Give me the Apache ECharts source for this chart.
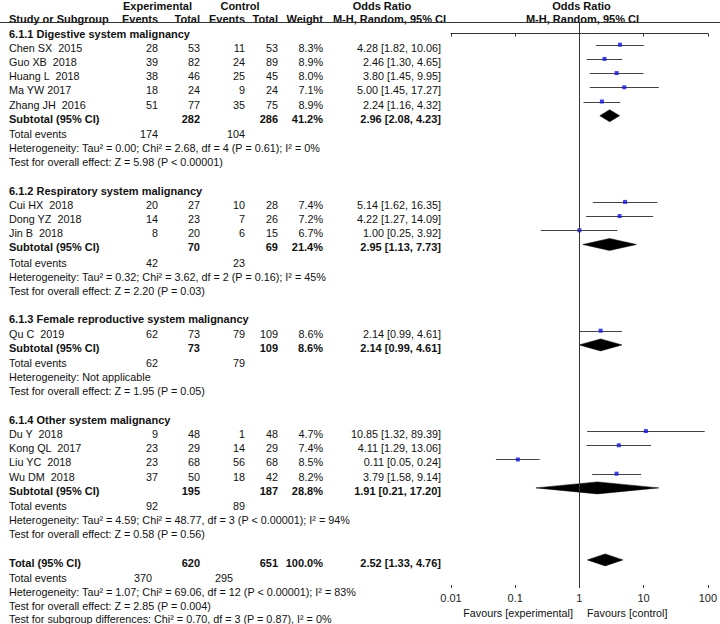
<!DOCTYPE html>
<html>
<head>
<meta charset="utf-8">
<script src="https://cdn.jsdelivr.net/npm/echarts@6/dist/echarts.min.js"></script>
<style>
html,body{margin:0;padding:0;background:#fff;}
#chart{width:720px;height:624px;}
</style>
</head>
<body>
<div id="chart"></div>
<script>
// ---------------- DATA ----------------
const groupNames = [
  '6.1.1 Digestive system malignancy',
  '6.1.2 Respiratory system malignancy',
  '6.1.3 Female reproductive system malignancy',
  '6.1.4 Other system malignancy'
];
const studyGroup = [0,0,0,0,0,1,1,1,2,3,3,3,3];
const studyNames = ['Chen SX  2015','Guo XB  2018','Huang L  2018','Ma YW 2017','Zhang JH  2016',
  'Cui HX  2018','Dong YZ  2018','Jin B  2018','Qu C  2019','Du Y  2018','Kong QL  2017','Liu YC  2018','Wu DM  2018'];
const expEvents  = [28,39,38,18,51,20,14,8,62,9,23,23,37];
const expTotal   = [53,82,46,24,77,27,23,20,73,48,29,68,50];
const ctrlEvents = [11,24,25,9,35,10,7,6,79,1,14,56,18];
const ctrlTotal  = [53,89,45,24,75,28,26,15,109,48,29,68,42];
const weights    = ['8.3%','8.9%','8.0%','7.1%','8.9%','7.4%','7.2%','6.7%','8.6%','4.7%','7.4%','8.5%','8.2%'];
const orEst  = [4.28,2.46,3.80,5.00,2.24,5.14,4.22,1.00,2.14,10.85,4.11,0.11,3.79];
const orLow  = [1.82,1.30,1.45,1.45,1.16,1.62,1.27,0.25,0.99,1.32,1.29,0.05,1.58];
const orHigh = [10.06,4.65,9.95,17.27,4.32,16.35,14.09,3.92,4.61,89.39,13.06,0.24,9.14];
const orText = ['4.28 [1.82, 10.06]','2.46 [1.30, 4.65]','3.80 [1.45, 9.95]','5.00 [1.45, 17.27]','2.24 [1.16, 4.32]',
  '5.14 [1.62, 16.35]','4.22 [1.27, 14.09]','1.00 [0.25, 3.92]','2.14 [0.99, 4.61]','10.85 [1.32, 89.39]',
  '4.11 [1.29, 13.06]','0.11 [0.05, 0.24]','3.79 [1.58, 9.14]'];

const subExpTotal   = [282,70,73,195];
const subCtrlTotal  = [286,69,109,187];
const subWeight     = ['41.2%','21.4%','8.6%','28.8%'];
const subEst  = [2.96,2.95,2.14,1.91];
const subLow  = [2.08,1.13,0.99,0.21];
const subHigh = [4.23,7.73,4.61,17.20];
const subText = ['2.96 [2.08, 4.23]','2.95 [1.13, 7.73]','2.14 [0.99, 4.61]','1.91 [0.21, 17.20]'];
const subExpEvents  = [174,42,62,92];
const subCtrlEvents = [104,23,79,89];
const subHet = [
  'Heterogeneity: Tau² = 0.00; Chi² = 2.68, df = 4 (P = 0.61); I² = 0%',
  'Heterogeneity: Tau² = 0.32; Chi² = 3.62, df = 2 (P = 0.16); I² = 45%',
  'Heterogeneity: Not applicable',
  'Heterogeneity: Tau² = 4.59; Chi² = 48.77, df = 3 (P < 0.00001); I² = 94%'
];
const subEffect = [
  'Test for overall effect: Z = 5.98 (P < 0.00001)',
  'Test for overall effect: Z = 2.20 (P = 0.03)',
  'Test for overall effect: Z = 1.95 (P = 0.05)',
  'Test for overall effect: Z = 0.58 (P = 0.56)'
];
const totalExpTotal = 620, totalCtrlTotal = 651, totalWeight = '100.0%';
const totalEst = 2.52, totalLow = 1.33, totalHigh = 4.76, totalText = '2.52 [1.33, 4.76]';
const totalExpEvents = 370, totalCtrlEvents = 295;
const totalHet = 'Heterogeneity: Tau² = 1.07; Chi² = 69.06, df = 12 (P < 0.00001); I² = 83%';
const totalEffect = 'Test for overall effect: Z = 2.85 (P = 0.004)';
const subgroupDiff = 'Test for subgroup differences: Chi² = 0.70, df = 3 (P = 0.87), I² = 0%';
const tickValues = [0.01, 0.1, 1, 10, 100];
const tickLabels = ['0.01','0.1','1','10','100'];

// ---------------- LAYOUT ----------------
const FONT = '"Liberation Sans", Arial, sans-serif';
const F = (b) => (b ? 'bold 11px ' : '10.8px ') + FONT;
const ROW0 = 33.5, STEP = 14.2, EXTRA = 0.07;
const yPix = r => ROW0 + r * STEP;
const MARK_SHIFT = -3 / STEP;
const X = {name: 9, ee: 158, et: 200, ce: 245, ct: 278, w: 323, or: 441};
const gridTop = 22.5, gridBottom = 588, gridLeft = 451, gridRight = 710;

const texts = [];
function txt(s, x, y, opt) {
  opt = opt || {};
  texts.push({
    type: 'text', silent: true,
    style: {
      text: String(s), x: x, y: y, fill: opt.fill || '#111', font: F(opt.bold),
      textAlign: opt.align || 'left', textVerticalAlign: 'middle', verticalAlign: 'middle'
    }
  });
}

const studyPts = [];   // [est, row]
const ciLines = [];    // [lo, hi, row]
const diamonds = [];   // [lo, est, hi, row]

let r = 0;
groupNames.forEach((g, gi) => {
  txt(g, X.name, yPix(r), {bold: true}); r += 1;
  studyNames.forEach((s, i) => {
    if (studyGroup[i] !== gi) return;
    const y = yPix(r);
    txt(s, X.name, y);
    txt(expEvents[i], X.ee, y, {align: 'right'});
    txt(expTotal[i], X.et, y, {align: 'right'});
    txt(ctrlEvents[i], X.ce, y, {align: 'right'});
    txt(ctrlTotal[i], X.ct, y, {align: 'right'});
    txt(weights[i], X.w, y, {align: 'right'});
    txt(orText[i], X.or, y, {align: 'right'});
    studyPts.push([orEst[i], r + MARK_SHIFT]);
    ciLines.push([orLow[i], orHigh[i], r + MARK_SHIFT]);
    r += 1;
  });
  let y = yPix(r);
  txt('Subtotal (95% CI)', X.name, y, {bold: true});
  txt(subExpTotal[gi], X.et, y, {align: 'right', bold: true});
  txt(subCtrlTotal[gi], X.ct, y, {align: 'right', bold: true});
  txt(subWeight[gi], X.w, y, {align: 'right', bold: true});
  txt(subText[gi], X.or, y, {align: 'right', bold: true});
  diamonds.push([subLow[gi], subEst[gi], subHigh[gi], r + MARK_SHIFT]);
  r += 1 + EXTRA;
  y = yPix(r);
  txt('Total events', X.name, y);
  txt(subExpEvents[gi], X.ee, y, {align: 'right'});
  txt(subCtrlEvents[gi], X.ce, y, {align: 'right'});
  r += 1;
  txt(subHet[gi], X.name, yPix(r)); r += 1;
  txt(subEffect[gi], X.name, yPix(r)); r += 1;
  r += 1;
});
let yT = yPix(r);
txt('Total (95% CI)', X.name, yT, {bold: true});
txt(totalExpTotal, X.et, yT, {align: 'right', bold: true});
txt(totalCtrlTotal, X.ct, yT, {align: 'right', bold: true});
txt(totalWeight, X.w, yT, {align: 'right', bold: true});
txt(totalText, X.or, yT, {align: 'right', bold: true});
diamonds.push([totalLow, totalEst, totalHigh, r + MARK_SHIFT]);
r += 1 + EXTRA;
yT = yPix(r);
txt('Total events', X.name, yT);
txt(totalExpEvents, X.ee - 6, yT, {align: 'right'});
txt(totalCtrlEvents, X.ce - 12, yT, {align: 'right'});
r += 1;
txt(totalHet, X.name, yPix(r)); r += 1;
txt(totalEffect, X.name, yPix(r)); r += 1;
txt(subgroupDiff, X.name, yPix(r) - 1.5);

// headers
txt('Experimental', 157.5, 5.5, {bold: true, align: 'center'});
txt('Control', 240, 5.5, {bold: true, align: 'center'});
txt('Odds Ratio', 382, 5.5, {bold: true, align: 'center'});
txt('Odds Ratio', 581.5, 5.5, {bold: true, align: 'center'});
txt('Study or Subgroup', X.name, 18.5, {bold: true});
txt('Events', X.ee, 18.5, {bold: true, align: 'right'});
txt('Total', X.et, 18.5, {bold: true, align: 'right'});
txt('Events', X.ce, 18.5, {bold: true, align: 'right'});
txt('Total', X.ct, 18.5, {bold: true, align: 'right'});
txt('Weight', X.w, 18.5, {bold: true, align: 'right'});
txt('M-H, Random, 95% CI', 446, 18.5, {bold: true, align: 'right'});
txt('M-H, Random, 95% CI', 582.5, 18.5, {bold: true, align: 'center'});
txt('Favours [experimental]', 573, 613, {align: 'right'});
txt('Favours [control]', 587, 613);

const graphics = texts.concat([{
  type: 'line', silent: true,
  shape: {x1: 0, y1: gridTop, x2: 720, y2: gridTop},
  style: {stroke: '#333', lineWidth: 1}
}]);

const yMin = (gridTop - ROW0) / STEP;
const yMax = (gridBottom - ROW0) / STEP;

const chart = echarts.init(document.getElementById('chart'), null, {renderer: 'svg'});
chart.setOption({
  animation: false,
  backgroundColor: '#fff',
  grid: {left: gridLeft, right: 720 - gridRight, top: gridTop, bottom: 624 - gridBottom, containLabel: false},
  xAxis: [{
    type: 'log', logBase: 10, min: 0.01, max: 100,
    axisLine: {show: true, lineStyle: {color: '#333', width: 1}},
    axisTick: {show: true, length: 3, lineStyle: {color: '#333'}},
    axisLabel: {
      show: true, margin: 4, color: '#222', fontFamily: FONT, fontSize: 11,
      formatter: v => { const k = tickValues.findIndex(t => Math.abs(Math.log10(t) - Math.log10(v)) < 1e-6); return k >= 0 ? tickLabels[k] : ''; }
    },
    splitLine: {show: false}
  }, {
    type: 'log', logBase: 10, min: 0.01, max: 100, position: 'bottom', gridIndex: 0,
    axisLine: {show: false},
    axisTick: {show: true, inside: true, length: 3, lineStyle: {color: '#333'}},
    axisLabel: {show: false},
    splitLine: {show: false}
  }],
  yAxis: {type: 'value', min: yMin, max: yMax, inverse: true, show: false},
  graphic: graphics,
  series: [
    {
      type: 'custom', name: 'ci', xAxisIndex: 0,
      data: ciLines, encode: {x: [0, 1], y: 2},
      renderItem: (params, api) => {
        const p1 = api.coord([api.value(0), api.value(2)]);
        const p2 = api.coord([api.value(1), api.value(2)]);
        return {type: 'line', shape: {x1: p1[0], y1: Math.round(p1[1]) + 0.5, x2: p2[0], y2: Math.round(p2[1]) + 0.5},
          style: {stroke: '#444', lineWidth: 1}};
      },
      z: 3,
      markLine: {
        silent: true, symbol: 'none', label: {show: false},
        lineStyle: {color: '#333', width: 1, type: 'solid'},
        data: [{xAxis: 1}]
      }
    },
    {
      type: 'scatter', name: 'est', xAxisIndex: 0,
      data: studyPts, symbol: 'rect', symbolSize: 4,
      itemStyle: {color: '#1010e0'}, z: 4
    },
    {
      type: 'custom', name: 'diamond', xAxisIndex: 0,
      data: diamonds, encode: {x: [0, 1, 2], y: 3},
      renderItem: (params, api) => {
        const y = api.value(3);
        const pl = api.coord([api.value(0), y]);
        const pe = api.coord([api.value(1), y]);
        const ph = api.coord([api.value(2), y]);
        const h = 6;
        return {type: 'polygon', shape: {points: [[pl[0], pl[1]], [pe[0], pe[1] - h], [ph[0], ph[1]], [pe[0], pe[1] + h]]},
          style: {fill: '#000', stroke: '#000', lineWidth: 0.5}};
      },
      z: 4
    }
  ]
});
</script>
</body>
</html>
